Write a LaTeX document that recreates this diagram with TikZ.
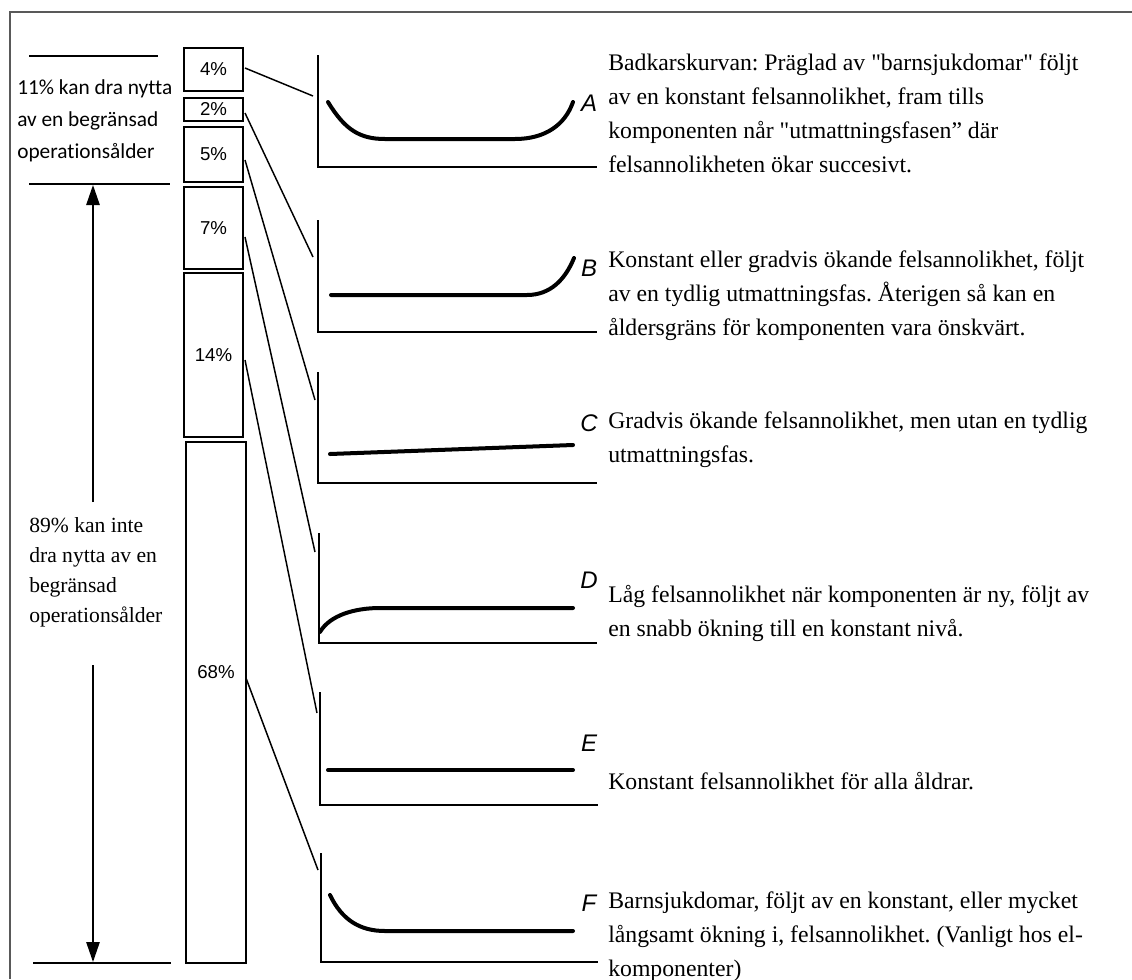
\documentclass[tikz,border=0pt]{standalone}
\usepackage{fontspec}
\setmainfont{Liberation Serif}
\setsansfont{Liberation Sans}
\newfontfamily\calfont[Ligatures=NoCommon]{Carlito}
\usetikzlibrary{arrows.meta}
\frenchspacing
\begin{document}
\begin{tikzpicture}[x=0.75pt,y=-0.75pt,
  pbox/.style={draw,line width=1.8pt,inner sep=0pt,outer sep=0pt,minimum width=44.25pt,
    font=\sffamily\fontsize{14}{16}\selectfont},
  link/.style={line width=1.1pt},
  axis/.style={line width=1.4pt},
  curve/.style={line width=3pt,line cap=round},
  tag/.style={font=\sffamily\itshape\fontsize{18}{20}\selectfont,inner sep=0pt},
  desc/.style={anchor=north west,align=left,inner sep=0pt,font=\fontsize{17.8}{25.5}\selectfont},
  rule/.style={line width=2.2pt},
  span/.style={line width=1.2pt,-{Triangle[length=15pt,width=10pt]}},
]
\useasboundingbox (0,0) rectangle (1132,979);
% outer frame
\draw[black!65, line width=0.9pt] (10,979) -- (10,12) -- (1132,12);

% left-hand scale
\draw[rule] (29,56) -- (158,56);
\draw[rule] (29,184) -- (170,184);
\draw[line width=1.6pt] (33,963) -- (171,963);
\node[anchor=north west,align=left,inner sep=0pt,font=\calfont\fontsize{16}{24}\selectfont]
  (few) at (17,79) {11\% kan dra nytta\\av en begränsad\\operationsålder};
\node[anchor=north west,align=left,inner sep=0pt,font=\fontsize{16.2}{22.5}\selectfont]
  (most) at (29,517) {89\% kan inte\\dra nytta av en\\begränsad\\operationsålder};
\coordinate (upS) at (93,502);
\coordinate (upE) at (93,185);
\coordinate (dnS) at (93,665);
\coordinate (dnE) at (93,962);
\draw[span] (upS) -- (upE);
\draw[span] (dnS) -- (dnE);

% stacked percentage bar
\node[pbox,minimum height=32.25pt] (b4) at (213.5,69.5) {4\%};
\node[pbox,minimum height=17.25pt] (b2) at (213.5,109.5) {2\%};
\node[pbox,minimum height=41.25pt] (b5) at (213.5,154.5) {5\%};
\node[pbox,minimum height=61.5pt] (b7) at (213.5,228) {7\%};
\node[pbox,minimum height=123pt] (b14) at (213.5,355) {14\%};
\node[pbox,minimum width=45pt,minimum height=390.75pt] (b68) at (216,702.5) {};
\node[font=\sffamily\fontsize{14}{16}\selectfont,inner sep=0pt] (t68) at (216,672) {68\%};

% connector ends
\coordinate (s4) at (245,68);   \coordinate (eA) at (313,96);
\coordinate (s2) at (245,113);  \coordinate (eB) at (313,257);
\coordinate (s5) at (245,160);  \coordinate (eC) at (315,400);
\coordinate (s7) at (245,237);  \coordinate (eD) at (315,552);
\coordinate (s14) at (245,360); \coordinate (eE) at (317,713);
\coordinate (s68) at (246,678); \coordinate (eF) at (318,870);
\draw[link] (s4) -- (eA);
\draw[link] (s2) -- (eB);
\draw[link] (s5) -- (eC);
\draw[link] (s7) -- (eD);
\draw[link] (s14) -- (eE);
\draw[link] (s68) -- (eF);

% failure-rate panels
\draw[axis] (318,55) |- (597,167);
\draw[curve] (328,102) .. controls (345,130) and (360,139) .. (385,139) -- (515,139)
  .. controls (545,139) and (565,125) .. (573,102);
\node[tag] (A) at (589,103) {A};

\draw[axis] (318,220) |- (597,332);
\draw[curve] (331,295) -- (527,295) .. controls (550,295) and (565,280) .. (574,258);
\node[tag] (B) at (589,268) {B};

\draw[axis] (318,372) |- (597,483);
\draw[curve] (330,454) -- (573,445);
\node[tag] (C) at (589,423) {C};

\draw[axis] (319,533) |- (597,643);
\draw[curve] (320,632) .. controls (330,615) and (355,608) .. (380,608) -- (573,608);
\node[tag] (D) at (589,580) {D};

\draw[axis] (320,692) |- (598,805);
\draw[curve] (328,770) -- (573,770);
\node[tag] (E) at (589,743) {E};

\draw[axis] (321,853) |- (598,962);
\draw[curve] (330,895) .. controls (342,920) and (360,931) .. (385,931) -- (573,931);
\node[tag] (F) at (589,903) {F};

% descriptions
\node[desc] (dA) at (608,54) {Badkarskurvan: Präglad av \textquotedbl barnsjukdomar\textquotedbl\ följt\\av en konstant felsannolikhet, fram tills\\komponenten når \textquotedbl utmattningsfasen” där\\felsannolikheten ökar succesivt.};
\node[desc] (dB) at (608,251) {Konstant eller gradvis ökande felsannolikhet, följt\\av en tydlig utmattningsfas. Återigen så kan en\\åldersgräns för komponenten vara önskvärt.};
\node[desc] (dC) at (608,412) {Gradvis ökande felsannolikhet, men utan en tydlig\\utmattningsfas.};
\node[desc] (dD) at (608,585) {Låg felsannolikhet när komponenten är ny, följt av\\en snabb ökning till en konstant nivå.};
\node[desc] (dE) at (608,772) {Konstant felsannolikhet för alla åldrar.};
\node[desc] (dF) at (608,892) {Barnsjukdomar, följt av en konstant, eller mycket\\långsamt ökning i, felsannolikhet. (Vanligt hos el-\\komponenter)};
\end{tikzpicture}
\end{document}
